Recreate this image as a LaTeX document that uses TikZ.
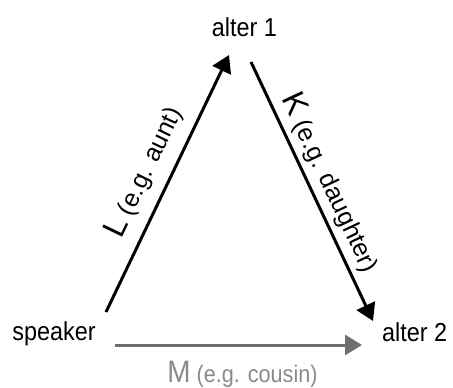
\documentclass[tikz,border=0pt]{standalone}
\usepackage{fontspec}
\setmainfont[FakeStretch=0.9]{Liberation Sans}
\newfontfamily\labfont{Liberation Sans}
\usetikzlibrary{arrows.meta,calc}
\definecolor{arrgray}{HTML}{6E6E6E}
\definecolor{labgray}{HTML}{8A8A8A}
\tikzset{
  person/.style={inner sep=0pt, anchor=base, font=\fontsize{26}{28}\selectfont},
  rel/.style={line width=3pt, -{Triangle[length=17pt,width=20pt]}},
  rellabel/.style={sloped, inner sep=0pt, font=\labfont\fontsize{25}{27}\selectfont},
  mlabel/.style={inner sep=0pt, text=labgray, font=\fontsize{24}{26}\selectfont},
}
\newcommand{\biglet}[1]{{\fontsize{32}{34}\selectfont #1}}
\begin{document}
\begin{tikzpicture}[x=1pt,y=-1pt]
\useasboundingbox (0,0) rectangle (453,388);
\node[person] (alter1) at (244.5,36) {alter 1};
\node[person] (speaker) at (54,340) {speaker};
\node[person] (alter2) at (414.7,341) {alter 2};
\draw[rel] ($(speaker.base)+(52,-28)$) -- ($(alter1.base)+(-15.5,19)$)
  node[rellabel, midway, above=11pt] (labL) {\biglet{L} (e.g. aunt)};
\draw[rel] ($(alter1.base)+(6.5,26)$) -- ($(alter2.base)+(-41.7,-20)$)
  node[rellabel, midway, above=5pt] (labK) {\biglet{K} (e.g. daughter)};
\draw[rel, draw=arrgray, fill=arrgray] ($(speaker.base)+(61,5)$) -- ($(alter2.base)+(-52.7,4)$)
  node[mlabel, midway, below=15pt, xshift=4pt] (labM) {{\fontsize{31}{33}\selectfont M} (e.g. cousin)};
\end{tikzpicture}
\end{document}
